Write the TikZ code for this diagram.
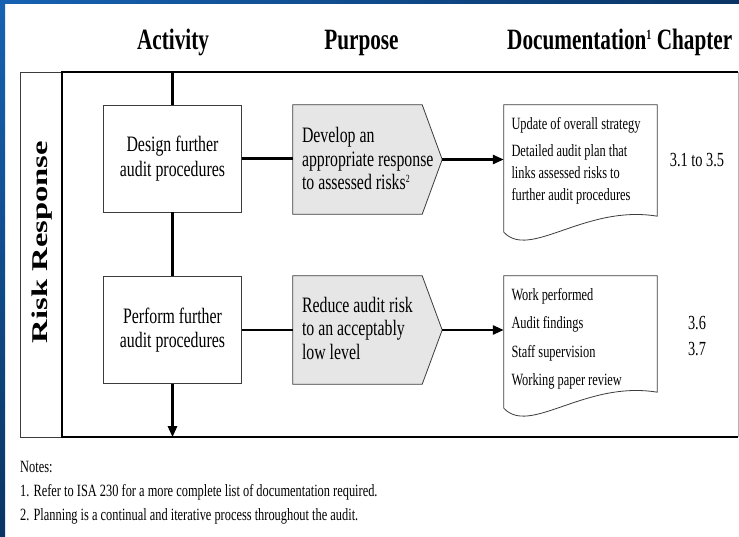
\documentclass[tikz,border=0pt]{standalone}
\usepackage{fontspec}
\setmainfont{Liberation Serif}
\newfontfamily\condfont{Liberation Serif}[FakeStretch=0.72]
\newfontfamily\widefont{Liberation Serif}[FakeStretch=1.45]
\usetikzlibrary{arrows.meta,calc}
\definecolor{bluelight}{RGB}{22,98,178}
\definecolor{bluedark}{RGB}{10,52,100}
\definecolor{pentfill}{RGB}{230,230,230}
\definecolor{edgegray}{RGB}{60,60,60}
\newcommand{\mysup}[3]{\raisebox{#1}{\fontsize{#2}{#2}\selectfont #3}}
\begin{document}
\begin{tikzpicture}[x=1pt,y=-1pt,
  hdr/.style={inner sep=0pt, font=\condfont\bfseries\fontsize{29.5}{32}\selectfont},
  actbox/.style={draw=edgegray, line width=0.9pt, minimum width=138pt, minimum height=107pt,
    inner sep=0pt, align=center, font=\condfont\fontsize{22}{24.5}\selectfont},
  shapebox/.style={inner sep=0pt, draw=none},
  pentshape/.style={fill=pentfill, draw=edgegray, line width=0.8pt},
  docshape/.style={fill=white, draw=edgegray, line width=0.8pt},
  ptext/.style={inner sep=0pt, align=left, font=\condfont\fontsize{22}{23.5}\selectfont},
  dtext/.style={inner sep=0pt, align=left, font=\condfont\fontsize{17.2}{22}\selectfont},
  chtext/.style={inner sep=0pt, align=center, font=\condfont\fontsize{20}{26}\selectfont},
  notes/.style={inner sep=0pt, font=\condfont\fontsize{17.2}{20}\selectfont},
  conn/.style={line width=2.6pt, black},
  framethick/.style={line width=2.4pt, black},
  arrowtip/.style={-{Triangle[length=11pt,width=9pt]}}
]
\useasboundingbox (0,0) rectangle (739,537);
\fill[white] (0,0) rectangle (739,537);
% blue frame strips
\shade[top color=bluelight, bottom color=bluedark] (0,0) rectangle (5,537);
\shade[left color=bluelight, right color=bluedark] (0,0) rectangle (739,4);

% headers
\node[hdr, anchor=base] (hact) at (173,50) {Activity};
\node[hdr, anchor=base] (hpur) at (361.5,50) {Purpose};
\node[hdr, anchor=base west] (hdoc) at (507,50) {Documentation\mysup{10pt}{14}{1} Chapter};

% label column and frame
\node[draw=edgegray, line width=0.8pt, minimum width=42pt, minimum height=365pt, inner sep=0pt] (lab) at (41,254.5) {};
\node[shapebox, minimum width=676pt, minimum height=365pt] (frame) at (400,254.5) {};
\draw[gray!60, line width=0.8pt] (frame.north east) -- (frame.south east);
\draw[framethick] (frame.north east) -- (frame.north west) -- (frame.south west) -- (frame.south east);
\node[rotate=90, inner sep=0pt, font=\widefont\bfseries\fontsize{22.5}{24}\selectfont] (rr) at (42,242) {Risk Response};

% activity boxes
\node[actbox] (a1) at (172.5,158.5) {Design further\\audit procedures};
\node[actbox] (a2) at (172.5,330) {Perform further\\audit procedures};

% purpose pentagons
\node[shapebox, minimum width=149pt, minimum height=109pt] (p1) at (367.5,159.5) {};
\node[shapebox, minimum width=149pt, minimum height=108pt] (p2) at (367.5,330) {};
\foreach \p in {p1,p2}{
  \draw[pentshape] (\p.north west) -- ($(\p.north east)+(-20,0)$) -- (\p.east)
     -- ($(\p.south east)+(-20,0)$) -- (\p.south west) -- cycle;
}
\node[ptext, anchor=west] (p1t) at ($(p1.west)+(9,-1)$) {Develop an\\appropriate response\\to assessed risks\mysup{7pt}{11}{2}};
\node[ptext, anchor=west] (p2t) at ($(p2.west)+(9,-2)$) {Reduce audit risk\\to an acceptably\\low level};

% documentation shapes
\node[shapebox, minimum width=153pt, minimum height=111pt] (d1) at (580.5,160.5) {};
\node[shapebox, minimum width=153pt, minimum height=116pt] (d2) at (580.5,334) {};
\foreach \d in {d1,d2}{
  \draw[docshape] (\d.north west) -- (\d.north east) -- (\d.south east)
     .. controls ($(\d.south west)+(81,-12)$) and ($(\d.south west)+(26,44)$) .. ($(\d.south west)+(0,16)$) -- cycle;
}
\node[dtext, anchor=north west] (d1t) at ($(d1.north west)+(7.5,12.3)$)
  {Update of overall strategy\\[5pt]Detailed audit plan that\\links assessed risks to\\further audit procedures};
\node[dtext, anchor=north west, font=\condfont\fontsize{17.2}{28.5}\selectfont] (d2t) at ($(d2.north west)+(7.5,12.3)$)
  {Work performed\\Audit findings\\Staff supervision\\Working paper review};

% chapters
\node[chtext] (c1) at (697,160) {3.1 to 3.5};
\node[chtext] (c2) at (697,336) {3.6\\3.7};

% connectors
\draw[conn] (a1.north |- frame.north) -- (a1.north);
\draw[conn] (a1.south) -- (a2.north);
\draw[conn, arrowtip] (a2.south) -- (a2.south |- frame.south);
\draw[conn] (a1.east) -- (a1.east -| p1.west);
\draw[conn] (a2.east) -- (a2.east -| p2.west);
\draw[conn, arrowtip] (p1.east) -- (p1.east -| d1.west);
\draw[conn, arrowtip] (p2.east) -- (p2.east -| d2.west);

% notes
\node[notes, anchor=base west] (n0) at (20,472) {Notes:};
\node[notes, anchor=base west] (n1) at (20,496) {1. Refer to ISA 230 for a more complete list of documentation required.};
\node[notes, anchor=base west] (n2) at (20,520) {2. Planning is a continual and iterative process throughout the audit.};
\end{tikzpicture}
\end{document}
